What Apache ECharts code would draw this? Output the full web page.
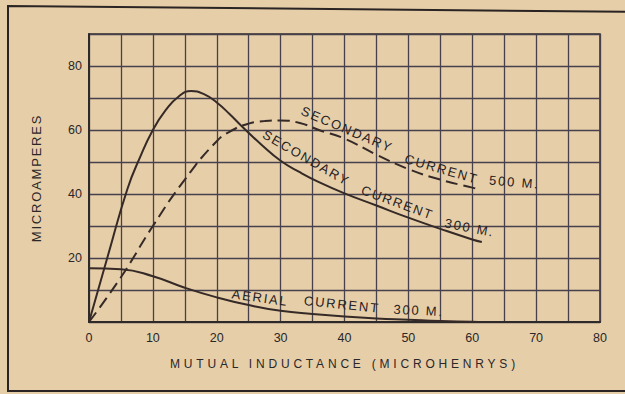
<!DOCTYPE html>
<html>
<head>
<meta charset="utf-8">
<script src="https://cdn.jsdelivr.net/npm/echarts@6/dist/echarts.min.js"></script>
<style>
  html, body { margin: 0; padding: 0; background: #e6cea8; }
  #chart { width: 625px; height: 394px; }
  /* spaced lettering for the titles and curve captions */
  #chart text[style*="Liberation Sans"] { letter-spacing: 1.8px; }
  #chart text[style*="Arimo"] { letter-spacing: 3.8px; }
</style>
</head>
<body>
<div id="chart"></div>
<script>
// Mutual inductance in microhenrys (x) against current in microamperes (y)
const secondary300 = [
  [0, 0], [3, 21], [6, 41.5], [8, 51.5], [10, 60], [12, 66.2], [14, 70.4],
  [16, 72.2], [18, 71.2], [20, 68.6], [22, 65], [24, 61], [27, 55.4], [30, 50.4],
  [33, 46.8], [36, 43.7], [40, 40.2], [45, 36.4], [50, 32.6], [55, 29.1], [60, 25.8], [61.5, 25]
];
const secondary500 = [
  [0, 0], [5, 14], [10, 30], [15, 44.5], [20, 56.5], [22.5, 60], [25, 62], [27.5, 62.8],
  [30, 63], [33, 62.2], [36, 60], [40, 57.3], [45, 52.3], [50, 47.8], [55, 44.5],
  [60, 42], [61, 41.5]
];
const aerial300 = [
  [0, 16.8], [5, 16.5], [10, 14.3], [15, 10.7], [20, 7.7], [25, 5.3], [30, 3.5],
  [35, 2.5], [40, 1.7], [45, 1.1], [50, 0.7], [55, 0.3], [60, 0.1], [61, 0]
];
const xTickLabels = [0, 10, 20, 30, 40, 50, 60, 70, 80];
const yTickLabels = [20, 40, 60, 80];

// Curve captions: words anchored in data coordinates, tilted along their curve
const captions = [
  { text: 'SECONDARY', at: [40.4, 60.2], tilt: 23 },
  { text: 'CURRENT', at: [55.2, 47.8], tilt: 16 },
  { text: '500 M.', at: [66.6, 43.7], tilt: 5 },
  { text: 'SECONDARY', at: [34.0, 51.3], tilt: 30 },
  { text: 'CURRENT', at: [48.3, 37.3], tilt: 20 },
  { text: '300 M.', at: [59.6, 29.5], tilt: 11 },
  { text: 'AERIAL', at: [26.8, 7.6], tilt: 8 },
  { text: 'CURRENT', at: [39.6, 5.5], tilt: 6 },
  { text: '300 M.', at: [51.6, 3.6], tilt: 3 }
];

const ink = '#352a27';
const gridInk = '#47414d';
const chart = echarts.init(document.getElementById('chart'), null, { renderer: 'svg' });

const lineSeries = (name, data, type) => ({
  name, type: 'line', data, smooth: 0.5, showSymbol: false, silent: true,
  lineStyle: { color: ink, width: 2, type: type },
  z: 3
});

chart.setOption({
  backgroundColor: '#e6cea8',
  animation: false,
  grid: {
    left: 89, right: 25, top: 34, bottom: 72,
    show: true, borderColor: '#2f2a2a', borderWidth: 1.5
  },
  xAxis: {
    type: 'value', min: 0, max: 80, interval: 5,
    name: 'MUTUAL INDUCTANCE (MICROHENRYS)',
    nameLocation: 'middle', nameGap: 36,
    nameTextStyle: { fontFamily: 'Arimo, Liberation Sans', fontSize: 12, color: '#2a2729' },
    axisLine: { lineStyle: { color: '#2f2a2a', width: 2 } },
    axisTick: { show: false },
    axisLabel: {
      margin: 9, fontFamily: 'Arial', fontSize: 12.5, color: '#2a2729',
      formatter: v => (xTickLabels.includes(v) ? String(v) : '')
    },
    splitLine: { lineStyle: { color: gridInk, width: 1.3 } }
  },
  yAxis: {
    type: 'value', min: 0, max: 90, interval: 10,
    name: 'MICROAMPERES',
    nameLocation: 'middle', nameGap: 46, nameRotate: 90,
    nameTextStyle: { fontFamily: 'Liberation Sans', fontSize: 13, color: '#2a2729' },
    axisLine: { show: true, lineStyle: { color: '#2f2a2a', width: 2 } },
    axisTick: { show: false },
    axisLabel: {
      margin: 7, fontFamily: 'Arial', fontSize: 12.5, color: '#2a2729',
      formatter: v => (yTickLabels.includes(v) ? String(v) : '')
    },
    splitLine: { lineStyle: { color: gridInk, width: 1.3 } }
  },
  series: [
    lineSeries('Secondary current 300 m', secondary300, 'solid'),
    lineSeries('Secondary current 500 m', secondary500, [12, 6]),
    lineSeries('Aerial current 300 m', aerial300, 'solid')
  ]
});

// Page frame plus the curve captions, placed through the grid's coordinate system
const captionEls = captions.map(c => {
  const p = chart.convertToPixel({ gridIndex: 0 }, c.at);
  return {
    type: 'text', x: p[0], y: p[1], rotation: -c.tilt * Math.PI / 180, z: 10,
    style: {
      text: c.text, fill: '#272225', align: 'center', verticalAlign: 'middle',
      font: '13px Liberation Sans'
    }
  };
});

chart.setOption({
  graphic: [
    {
      type: 'polyline', z: 1,
      shape: { points: [[640, 391], [8, 391], [8, 6], [640, 12]] },
      style: { stroke: '#2a2424', lineWidth: 2, fill: null }
    }
  ].concat(captionEls)
});
</script>
</body>
</html>
